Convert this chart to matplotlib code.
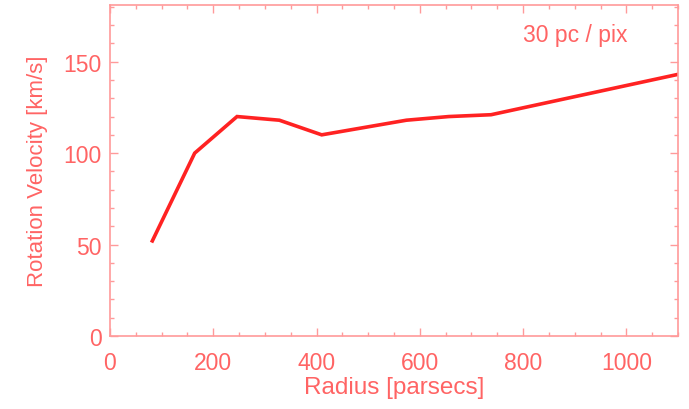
"""
Rotation curve, 30 pc / pix
"""
import matplotlib
matplotlib.use("Agg")
import matplotlib.pyplot as plt
from matplotlib.ticker import MultipleLocator

# radius in parsecs and rotation velocity in km/s
radius = [82, 164, 246, 328, 410, 492, 574, 656, 738, 820, 902, 984, 1066, 1148]
velocity = [52, 100, 120, 118, 110, 114, 118, 120, 121, 126, 131, 136, 141, 146]

label_col = '#ff6464'
axis_col = '#ff9a9a'
line_col = '#ff2222'
fs = 16.5

plt.rcParams['font.family'] = ['Liberation Sans', 'DejaVu Sans']

fig = plt.figure(figsize=(6.89, 4.10), dpi=100)
ax = fig.add_axes([110 / 689, 1 - 337 / 410, 568 / 689, 331 / 410])

ax.plot(radius, velocity, color=line_col, lw=2.6, solid_joinstyle='miter')

ax.set_xlim(0, 1100)
ax.set_ylim(0, 181)
ax.xaxis.set_major_locator(MultipleLocator(200))
ax.xaxis.set_minor_locator(MultipleLocator(50))
ax.yaxis.set_major_locator(MultipleLocator(50))
ax.yaxis.set_minor_locator(MultipleLocator(10))

for s in ax.spines.values():
    s.set_color(axis_col)
    s.set_linewidth(1.2)
ax.tick_params(which='both', direction='in', top=True, right=True,
               colors=axis_col, labelcolor=label_col, labelsize=fs)
ax.tick_params(which='major', length=6, width=1)
ax.tick_params(which='minor', length=3, width=1)
ax.tick_params(axis='x', which='major', pad=11)
ax.tick_params(axis='y', which='major', pad=6)

ax.set_xlabel('Radius [parsecs]', color=label_col, fontsize=17.5)
ax.set_ylabel('Rotation Velocity [km/s]', color=label_col, fontsize=16)
ax.xaxis.set_label_coords(0.5, -0.12)
ax.yaxis.set_label_coords(-0.109, 0.5)

ax.text(800, 165, '30 pc / pix', color=label_col, fontsize=fs, va='center')

fig.savefig('out.png', dpi=100)
